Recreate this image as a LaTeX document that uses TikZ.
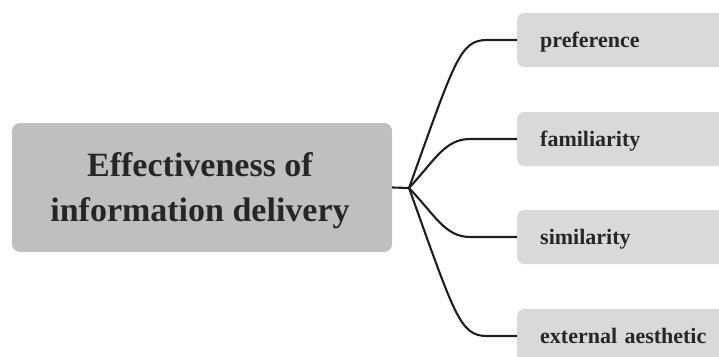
\documentclass[tikz,border=0pt]{standalone}
\usepackage{fontspec}
\setmainfont{Liberation Serif}
\definecolor{mainfill}{HTML}{BFBFBF}
\definecolor{leaffill}{HTML}{D9D9D9}
\definecolor{ink}{HTML}{262626}
\definecolor{wire}{HTML}{1E1E1E}
\begin{document}
\begin{tikzpicture}[x=1pt,y=-1pt,
  mainbox/.style={rectangle, rounded corners=8pt, fill=mainfill, draw=none,
    minimum width=380pt, minimum height=129pt, inner sep=0pt, align=center,
    text=ink, font=\fontsize{34}{45}\selectfont\bfseries},
  maintext/.style={inner sep=0pt, align=center,
    text=ink, font=\fontsize{34}{45}\selectfont\bfseries},
  leafbox/.style={rectangle, rounded corners=7pt, fill=leaffill, draw=none,
    anchor=west, minimum height=54pt, text width=200pt, inner xsep=23pt, inner ysep=0pt,
    align=left, text height=14pt, text depth=0pt,
    text=ink, font=\fontsize{22}{26}\selectfont\bfseries},
  wirestyle/.style={draw=wire, line width=2.1pt}]
\useasboundingbox (0,0) rectangle (719,356);
\clip (0,0) rectangle (719,356);
\node[mainbox] (main) at (202,187.5) {};
\node[maintext] (maint) at (200,191) {Effectiveness of\\information delivery};
\node[leafbox] (l1) at (517,40) {preference};
\node[leafbox] (l2) at (517,139) {familiarity};
\node[leafbox] (l3) at (517,237) {similarity};
\node[leafbox] (l4) at (517,336) {external aesthetic};
\coordinate (j) at (409,188);
\coordinate (h1) at (487,40);
\coordinate (h2) at (470,139);
\coordinate (h3) at (470,237);
\coordinate (h4) at (487,336);
\draw[wirestyle] (main.east) -- (j);
\draw[wirestyle] (j) .. controls (455,60) and (460,40) .. (h1) -- (l1.west);
\draw[wirestyle] (j) .. controls (435,160) and (445,139) .. (h2) -- (l2.west);
\draw[wirestyle] (j) .. controls (435,215) and (445,237) .. (h3) -- (l3.west);
\draw[wirestyle] (j) .. controls (455,316) and (460,336) .. (h4) -- (l4.west);
\end{tikzpicture}
\end{document}
